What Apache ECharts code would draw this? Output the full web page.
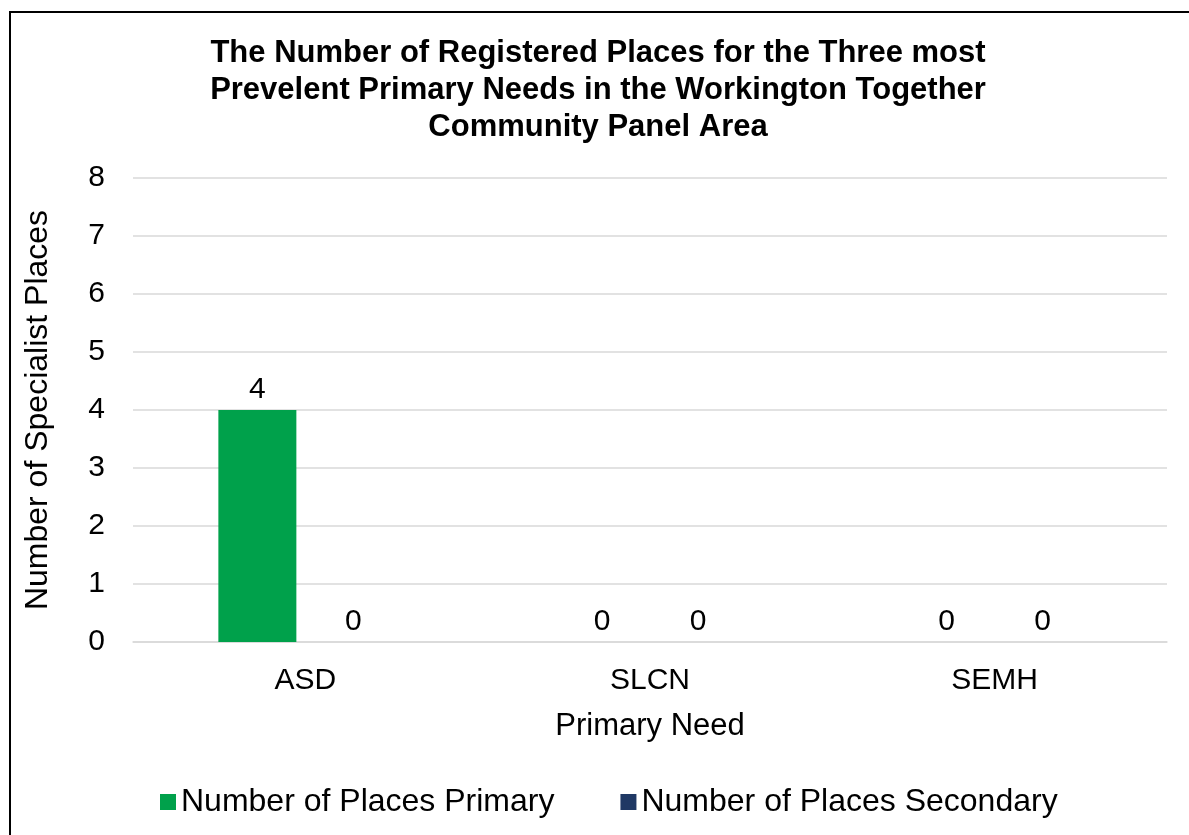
<!DOCTYPE html>
<html>
<head>
<meta charset="utf-8">
<script src="https://cdn.jsdelivr.net/npm/echarts@6/dist/echarts.min.js"></script>
<style>
html,body{margin:0;padding:0;background:#fff;}
#chart{width:1189px;height:835px;}
</style>
</head>
<body>
<div id="chart"></div>
<script>
const categories = ['ASD', 'SLCN', 'SEMH'];
const placesPrimary = [4, 0, 0];
const placesSecondary = [0, 0, 0];
const seriesNames = ['Number of Places Primary', 'Number of Places Secondary'];
const titleText = 'The Number of Registered Places for the Three most\nPrevelent Primary Needs in the Workington Together\nCommunity Panel Area';

const FONT = '"Liberation Sans", Arial, sans-serif';
const chart = echarts.init(document.getElementById('chart'));
chart.setOption({
  backgroundColor: '#ffffff',
  animation: false,
  graphic: [{
    type: 'rect',
    shape: { x: 10, y: 12, width: 1400, height: 1000 },
    style: { fill: 'none', stroke: '#000', lineWidth: 2 },
    silent: true
  }],
  title: {
    text: titleText,
    left: 593,
    textAlign: 'center',
    top: 30,
    textStyle: { fontFamily: FONT, fontSize: 31, fontWeight: 'bold', color: '#000', lineHeight: 37 }
  },
  legend: {
    bottom: 12,
    left: 155,
    itemWidth: 16,
    itemHeight: 16,
    itemGap: 66,
    icon: 'rect',
    textStyle: { fontFamily: FONT, fontSize: 32, color: '#000' },
    data: seriesNames
  },
  grid: { left: 133, right: 22, top: 178, bottom: 193, containLabel: false },
  xAxis: {
    type: 'category',
    data: categories,
    name: 'Primary Need',
    nameLocation: 'middle',
    nameGap: 69,
    nameTextStyle: { fontFamily: FONT, fontSize: 31, color: '#000' },
    axisLine: { lineStyle: { color: '#d9d9d9', width: 1.5 } },
    axisTick: { show: false },
    axisLabel: { fontFamily: FONT, fontSize: 30, color: '#000', margin: 24 }
  },
  yAxis: {
    type: 'value',
    min: 0,
    max: 8,
    interval: 1,
    name: 'Number of Specialist Places',
    nameLocation: 'middle',
    nameGap: 79,
    nameTextStyle: { fontFamily: FONT, fontSize: 32, color: '#000' },
    axisLine: { show: false },
    axisTick: { show: false },
    axisLabel: { fontFamily: FONT, fontSize: 30, color: '#000', margin: 28 },
    splitLine: { lineStyle: { color: '#d9d9d9', width: 1.5 } }
  },
  series: [
    {
      name: seriesNames[0],
      type: 'bar',
      data: placesPrimary,
      barWidth: 78,
      barGap: '23%',
      itemStyle: { color: '#00A14B' },
      label: { show: true, position: 'top', fontFamily: FONT, fontSize: 30, color: '#000' }
    },
    {
      name: seriesNames[1],
      type: 'bar',
      data: placesSecondary,
      barWidth: 78,
      barGap: '23%',
      itemStyle: { color: '#1F3864' },
      label: { show: true, position: 'top', fontFamily: FONT, fontSize: 30, color: '#000' }
    }
  ]
});
</script>
</body>
</html>
